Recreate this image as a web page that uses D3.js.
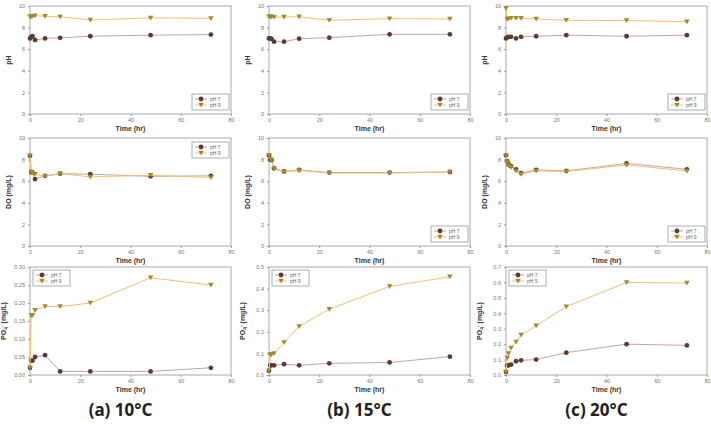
<!DOCTYPE html>
<html>
<head>
<meta charset="utf-8">
<script src="https://cdn.jsdelivr.net/npm/d3@7"></script>
<style>
  body { margin: 0; background: #fff; }
  svg { display: block; font-family: "Liberation Sans", Arial, sans-serif; }
</style>
</head>
<body>
<svg id="chart"></svg>
<script>
// sampling times (hr)
const hours10 = [0, 0.5, 1, 2, 6, 12, 24, 48, 72];
const hours15 = [0, 0.5, 1, 2, 6, 12, 24, 48, 72];
const hours20 = [0, 0.5, 1, 2, 4, 6, 12, 24, 48, 72];

// pH
const ph10_pH7 = [7.0, 7.15, 7.2, 6.85, 7.0, 7.05, 7.2, 7.3, 7.35];
const ph10_pH9 = [9.0, 9.0, 9.05, 9.1, 9.05, 9.0, 8.7, 8.9, 8.85];
const ph15_pH7 = [7.0, 7.0, 6.95, 6.7, 6.7, 6.97, 7.07, 7.38, 7.38];
const ph15_pH9 = [9.0, 9.0, 9.0, 8.95, 8.98, 9.0, 8.68, 8.83, 8.8];
const ph20_pH7 = [7.0, 7.1, 7.15, 7.15, 7.0, 7.15, 7.2, 7.3, 7.2, 7.3];
const ph20_pH9 = [9.8, 8.77, 8.83, 8.86, 8.86, 8.86, 8.8, 8.68, 8.65, 8.55];

// DO (mg/L)
const do10_pH7 = [8.35, 6.85, 6.8, 6.2, 6.5, 6.7, 6.65, 6.45, 6.5];
const do10_pH9 = [8.35, 6.85, 6.75, 6.65, 6.45, 6.7, 6.4, 6.55, 6.35];
const do15_pH7 = [8.4, 8.0, 7.95, 7.2, 6.9, 7.05, 6.8, 6.8, 6.85];
const do15_pH9 = [8.4, 8.0, 7.95, 7.15, 6.85, 7.0, 6.75, 6.75, 6.85];
const do20_pH7 = [8.4, 7.85, 7.55, 7.4, 7.1, 6.75, 7.05, 6.95, 7.65, 7.1];
const do20_pH9 = [8.35, 7.75, 7.45, 7.3, 6.95, 6.65, 6.95, 6.9, 7.5, 6.95];

// PO4 (mg/L)
const po10_pH7 = [0.02, 0.04, 0.04, 0.05, 0.055, 0.01, 0.01, 0.01, 0.02];
const po10_pH9 = [0.02, 0.165, 0.165, 0.18, 0.19, 0.19, 0.2, 0.27, 0.25];
const po15_pH7 = [0.02, 0.045, 0.045, 0.045, 0.05, 0.045, 0.054, 0.058, 0.085];
const po15_pH9 = [0.02, 0.095, 0.095, 0.1, 0.15, 0.225, 0.305, 0.41, 0.455];
const po20_pH7 = [0.02, 0.063, 0.063, 0.067, 0.089, 0.095, 0.1, 0.145, 0.2, 0.192];
const po20_pH9 = [0.02, 0.11, 0.14, 0.175, 0.214, 0.26, 0.32, 0.443, 0.6, 0.596];

const captions = ["(a) 10\u00B0C", "(b) 15\u00B0C", "(c) 20\u00B0C"];
const seriesNames = ["pH 7", "pH 9"];

const width = 711;
const height = 424;

const svg = d3.select("#chart")
  .attr("width", width)
  .attr("height", height);

// series styles
const style7 = { line: "#c9a3a3", mark: "#5a3d2e", shape: "circle" };
const style9 = { line: "#efc172", mark: "#a08a34", shape: "tri" };

const colLeft = [30, 269, 506];
const rowTop = [6, 138, 267];
const plotW = 201;
const plotH = 108;

const panels = [
  // row 0 : pH
  { r: 0, c: 0, x: hours10, a: ph10_pH7, b: ph10_pH9, ymax: 10, step: 2, fmt: "d", title: "pH", legend: "br" },
  { r: 0, c: 1, x: hours15, a: ph15_pH7, b: ph15_pH9, ymax: 10, step: 2, fmt: "d", title: "pH", legend: "br" },
  { r: 0, c: 2, x: hours20, a: ph20_pH7, b: ph20_pH9, ymax: 10, step: 2, fmt: "d", title: "pH", legend: "br" },
  // row 1 : DO
  { r: 1, c: 0, x: hours10, a: do10_pH7, b: do10_pH9, ymax: 10, step: 2, fmt: "d", title: "DO (mg/L)", legend: "tr" },
  { r: 1, c: 1, x: hours15, a: do15_pH7, b: do15_pH9, ymax: 10, step: 2, fmt: "d", title: "DO (mg/L)", legend: "br" },
  { r: 1, c: 2, x: hours20, a: do20_pH7, b: do20_pH9, ymax: 10, step: 2, fmt: "d", title: "DO (mg/L)", legend: "br" },
  // row 2 : PO4
  { r: 2, c: 0, x: hours10, a: po10_pH7, b: po10_pH9, ymax: 0.30, step: 0.05, fmt: ".2f", title: "PO4", legend: "tl" },
  { r: 2, c: 1, x: hours15, a: po15_pH7, b: po15_pH9, ymax: 0.5, step: 0.1, fmt: ".1f", title: "PO4", legend: "tl" },
  { r: 2, c: 2, x: hours20, a: po20_pH7, b: po20_pH9, ymax: 0.7, step: 0.1, fmt: ".1f", title: "PO4", legend: "tl" }
];

function drawMarker(g, shape, color, cx, cy) {
  if (shape === "circle") {
    g.append("circle")
      .attr("cx", cx).attr("cy", cy).attr("r", 2.4)
      .attr("fill", color);
  } else {
    const s = 2.8;
    g.append("path")
      .attr("d", `M${cx - s},${cy - s * 0.8}L${cx + s},${cy - s * 0.8}L${cx},${cy + s * 0.9}Z`)
      .attr("fill", color);
  }
}

function drawPanel(p) {
  const left = colLeft[p.c];
  const top = rowTop[p.r];

  const x = d3.scaleLinear().domain([0, 80]).range([left, left + plotW]);
  const y = d3.scaleLinear().domain([0, p.ymax]).range([top + plotH, top]);

  const g = svg.append("g");

  // frame
  g.append("rect")
    .attr("x", left).attr("y", top)
    .attr("width", plotW).attr("height", plotH)
    .attr("fill", "#fff")
    .attr("stroke", "#a9a9a9")
    .attr("stroke-width", 1);

  const yTicks = d3.range(0, p.ymax + p.step / 2, p.step);

  const xAxis = g.append("g")
    .attr("transform", `translate(0,${top + plotH})`)
    .call(d3.axisBottom(x).tickValues([0, 20, 40, 60, 80]).tickSize(2).tickPadding(2));
  const yAxis = g.append("g")
    .attr("transform", `translate(${left},0)`)
    .call(d3.axisLeft(y).tickValues(yTicks).tickFormat(d3.format(p.fmt)).tickSize(2).tickPadding(3));

  [xAxis, yAxis].forEach(ax => {
    ax.select(".domain").remove();
    ax.selectAll("line").attr("stroke", "#999");
    ax.selectAll("text")
      .attr("fill", "#777")
      .style("font-size", "5.5px");
  });

  // axis titles
  g.append("text")
    .attr("x", left + plotW / 2)
    .attr("y", top + plotH + 17)
    .attr("text-anchor", "middle")
    .style("font-size", "7px")
    .style("font-weight", "bold")
    .attr("fill", "#333")
    .text("Time (hr)");

  const yt = g.append("text")
    .attr("transform", `translate(${left - (p.r === 2 ? 24 : 19)},${top + plotH / 2}) rotate(-90)`)
    .attr("text-anchor", "middle")
    .style("font-size", "7px")
    .style("font-weight", "bold")
    .attr("fill", "#333");
  if (p.title === "PO4") {
    yt.append("tspan").text("PO");
    yt.append("tspan").attr("dy", 2).style("font-size", "5px").text("4");
    yt.append("tspan").attr("dy", -4).style("font-size", "5px").text("-");
    yt.append("tspan").attr("dy", 2).text(" (mg/L)");
  } else {
    yt.text(p.title);
  }

  const line = d3.line()
    .x(d => x(d[0]))
    .y(d => y(d[1]));

  const series = [
    { vals: p.a, st: style7 },
    { vals: p.b, st: style9 }
  ];

  series.forEach(s => {
    const pts = p.x.map((h, i) => [h, s.vals[i]]);
    g.append("path")
      .datum(pts)
      .attr("d", line)
      .attr("fill", "none")
      .attr("stroke", s.st.line)
      .attr("stroke-width", 1);
    pts.forEach(d => drawMarker(g, s.st.shape, s.st.mark, x(d[0]), y(d[1])));
  });

  // legend
  const lw = 37, lh = 16;
  let lx, ly;
  if (p.legend === "br") { lx = left + plotW - lw - 2; ly = top + plotH - lh - 4; }
  else if (p.legend === "tr") { lx = left + plotW - lw - 2; ly = top + 4; }
  else { lx = left + 3; ly = top + 3; }

  const lg = g.append("g").attr("transform", `translate(${lx},${ly})`);
  lg.append("rect")
    .attr("width", lw).attr("height", lh)
    .attr("fill", "#fff")
    .attr("stroke", "#999")
    .attr("stroke-width", 0.8);

  seriesNames.forEach((name, i) => {
    const st = i === 0 ? style7 : style9;
    const cy = 5 + i * 6;
    lg.append("line")
      .attr("x1", 3).attr("x2", 15)
      .attr("y1", cy).attr("y2", cy)
      .attr("stroke", st.line)
      .attr("stroke-width", 1);
    drawMarker(lg, st.shape, st.mark, 9, cy);
    lg.append("text")
      .attr("x", 18).attr("y", cy + 1.8)
      .style("font-size", "5px")
      .attr("fill", "#666")
      .text(name);
  });
}

panels.forEach(drawPanel);

// captions under each column
svg.selectAll(".caption")
  .data(captions)
  .enter().append("text")
  .attr("class", "caption")
  .attr("x", (d, i) => colLeft[i] + plotW / 2 - 10)
  .attr("y", 416)
  .attr("text-anchor", "middle")
  .style("font-family", "'Noto Sans', sans-serif")
  .style("font-size", "17px")
  .style("font-weight", "bold")
  .attr("fill", "#222")
  .text(d => d);
</script>
</body>
</html>
